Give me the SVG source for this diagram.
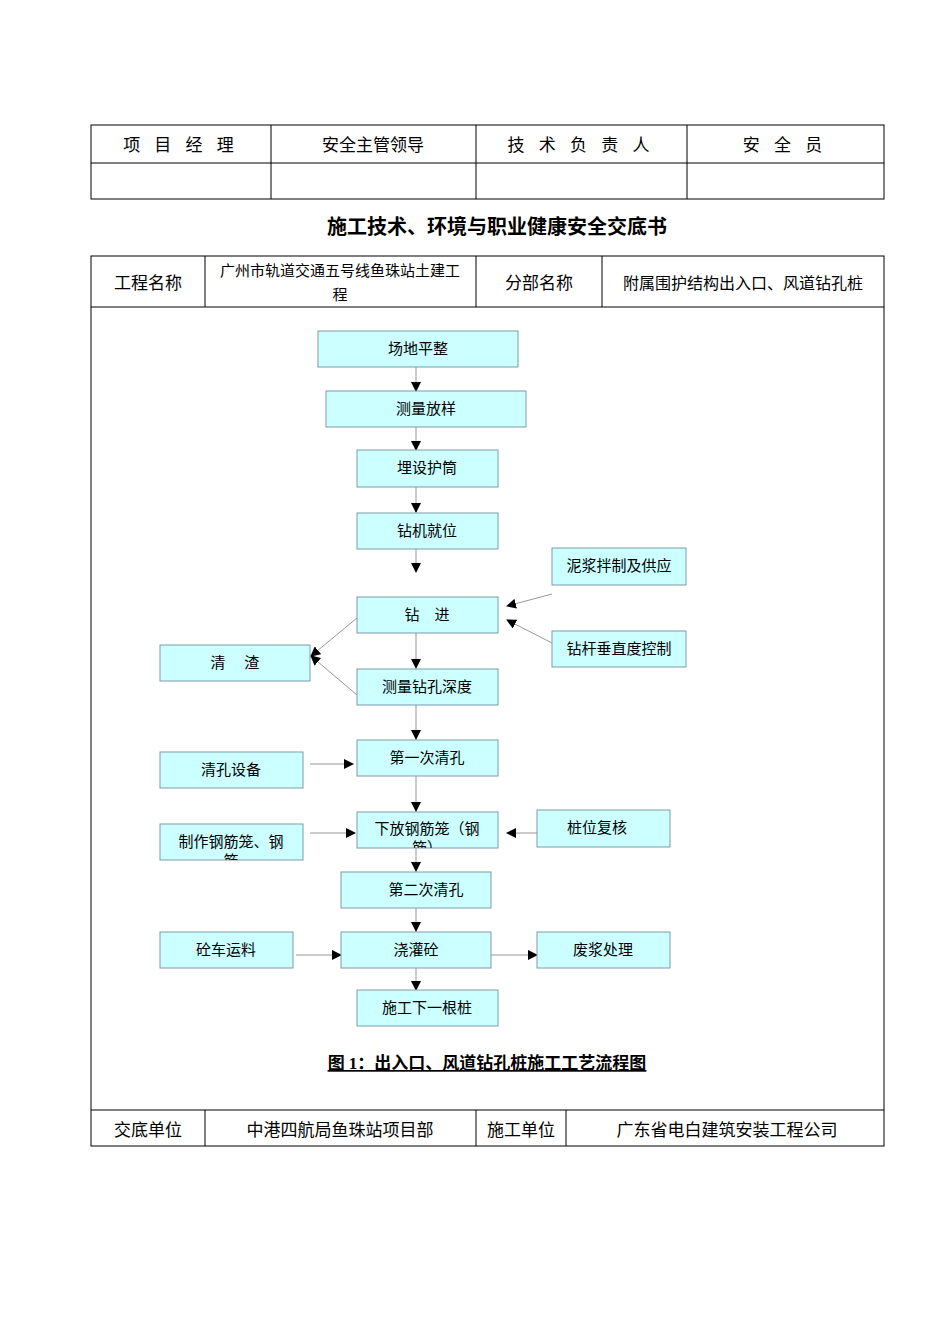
<svg xmlns="http://www.w3.org/2000/svg" width="950" height="1344" viewBox="0 0 950 1344">
<style>
text{font-family:"Liberation Serif","Noto Sans CJK SC",serif;fill:#000}
.t{font-size:17px;text-anchor:middle}
.b rect{fill:#ccffff;stroke:#7f9ca6;stroke-width:1}
.b text{font-size:15px;text-anchor:middle}
.tb line,.tb rect{stroke:#000;stroke-width:1;fill:none}
.c line{stroke:#999;stroke-width:1;marker-end:url(#a)}
</style>
<defs>
<marker id="a" markerWidth="10" markerHeight="10" refX="9" refY="5" orient="auto" markerUnits="userSpaceOnUse"><path d="M0,0L10,5L0,10z" fill="#000"/></marker>
<clipPath id="k1"><rect x="160" y="824" width="143" height="36"/></clipPath>
<clipPath id="k2"><rect x="357" y="812" width="141" height="36"/></clipPath>
</defs>
<rect width="950" height="1344" fill="#fff"/>
<g class="tb">
<rect x="91" y="125" width="793" height="74"/>
<line x1="91" y1="163" x2="884" y2="163"/>
<line x1="271" y1="125" x2="271" y2="199"/><line x1="476" y1="125" x2="476" y2="199"/><line x1="687" y1="125" x2="687" y2="199"/>
<rect x="91" y="256" width="793" height="890"/>
<line x1="91" y1="307" x2="884" y2="307"/><line x1="91" y1="1110" x2="884" y2="1110"/>
<line x1="205" y1="256" x2="205" y2="307"/><line x1="476" y1="256" x2="476" y2="307"/><line x1="602" y1="256" x2="602" y2="307"/>
<line x1="205" y1="1110" x2="205" y2="1146"/><line x1="476" y1="1110" x2="476" y2="1146"/><line x1="566" y1="1110" x2="566" y2="1146"/>
</g>
<text class="t" x="181" y="151" letter-spacing="5">项 目 经 理</text>
<text class="t" x="373" y="151">安全主管领导</text>
<text class="t" x="581" y="151" letter-spacing="5">技 术 负 责 人</text>
<text class="t" x="785" y="151" letter-spacing="5">安 全 员</text>
<text x="497" y="234" style="font-size:20px;font-weight:bold;text-anchor:middle">施工技术、环境与职业健康安全交底书</text>
<text class="t" x="148" y="289">工程名称</text>
<text x="340" y="276" style="font-size:15px;text-anchor:middle">广州市轨道交通五号线鱼珠站土建工</text>
<text x="340" y="300" style="font-size:15px;text-anchor:middle">程</text>
<text class="t" x="539" y="289">分部名称</text>
<text x="743" y="289" style="font-size:16px;text-anchor:middle">附属围护结构出入口、风道钻孔桩</text>
<text class="t" x="148" y="1136">交底单位</text>
<text class="t" x="340" y="1136">中港四航局鱼珠站项目部</text>
<text class="t" x="521" y="1136">施工单位</text>
<text class="t" x="727" y="1136">广东省电白建筑安装工程公司</text>
<g class="c">
<line x1="416" y1="367" x2="416" y2="391"/>
<line x1="416" y1="427" x2="416" y2="450"/>
<line x1="416" y1="487" x2="416" y2="512"/>
<line x1="416" y1="549" x2="416" y2="572"/>
<line x1="416" y1="633" x2="416" y2="668"/>
<line x1="416" y1="705" x2="416" y2="739"/>
<line x1="416" y1="776" x2="416" y2="811"/>
<line x1="416" y1="848" x2="416" y2="871"/>
<line x1="416" y1="908" x2="416" y2="931"/>
<line x1="416" y1="968" x2="416" y2="990"/>
<line x1="552" y1="594" x2="507" y2="606"/>
<line x1="552" y1="643" x2="507" y2="620"/>
<line x1="357" y1="618" x2="311" y2="656"/>
<line x1="357" y1="695" x2="311" y2="656"/>
<line x1="310" y1="764" x2="353" y2="764"/>
<line x1="310" y1="833" x2="355" y2="833"/>
<line x1="537" y1="833" x2="507" y2="833"/>
<line x1="296" y1="955" x2="341" y2="955"/>
<line x1="491" y1="955" x2="537" y2="955"/>
</g>
<g class="b">
<g id="n1"><rect x="318" y="331" width="200" height="36"/><text x="418" y="354">场地平整</text></g>
<g id="n2"><rect x="326" y="391" width="200" height="36"/><text x="426" y="414">测量放样</text></g>
<g id="n3"><rect x="357" y="450" width="141" height="37"/><text x="427" y="473">埋设护筒</text></g>
<g id="n4"><rect x="357" y="513" width="141" height="36"/><text x="427" y="536">钻机就位</text></g>
<g id="n5"><rect x="552" y="548" width="134" height="37"/><text x="619" y="571">泥浆拌制及供应</text></g>
<g id="n6"><rect x="357" y="597" width="141" height="36"/><text x="427" y="620" xml:space="preserve">钻    进</text></g>
<g id="n7"><rect x="552" y="631" width="134" height="36"/><text x="619" y="654">钻杆垂直度控制</text></g>
<g id="n8"><rect x="160" y="645" width="150" height="36"/><text x="235" y="668" xml:space="preserve">清     渣</text></g>
<g id="n9"><rect x="357" y="669" width="141" height="36"/><text x="427" y="692">测量钻孔深度</text></g>
<g id="n10"><rect x="357" y="740" width="141" height="36"/><text x="427" y="763">第一次清孔</text></g>
<g id="n11"><rect x="160" y="752" width="143" height="36"/><text x="231" y="775">清孔设备</text></g>
<g id="n12"><rect x="160" y="824" width="143" height="36"/><g clip-path="url(#k1)"><text x="231" y="847">制作钢筋笼、钢</text><text x="231" y="866">筋</text></g></g>
<g id="n13"><rect x="357" y="812" width="141" height="36"/><g clip-path="url(#k2)"><text x="427" y="834">下放钢筋笼（钢</text><text x="427" y="853">筋）</text></g></g>
<g id="n14"><rect x="537" y="810" width="133" height="37"/><text x="597" y="833">桩位复核</text></g>
<g id="n15"><rect x="341" y="872" width="150" height="36"/><text x="426" y="895">第二次清孔</text></g>
<g id="n16"><rect x="160" y="932" width="133" height="36"/><text x="226" y="955">砼车运料</text></g>
<g id="n17"><rect x="341" y="932" width="150" height="36"/><text x="416" y="955">浇灌砼</text></g>
<g id="n18"><rect x="537" y="932" width="133" height="36"/><text x="603" y="955">废浆处理</text></g>
<g id="n19"><rect x="357" y="990" width="141" height="36"/><text x="427" y="1013">施工下一根桩</text></g>
</g>
<text x="487" y="1069" style="font-size:17px;font-weight:bold;text-anchor:middle;text-decoration:underline">图 1：出入口、风道钻孔桩施工工艺流程图</text>
</svg>
